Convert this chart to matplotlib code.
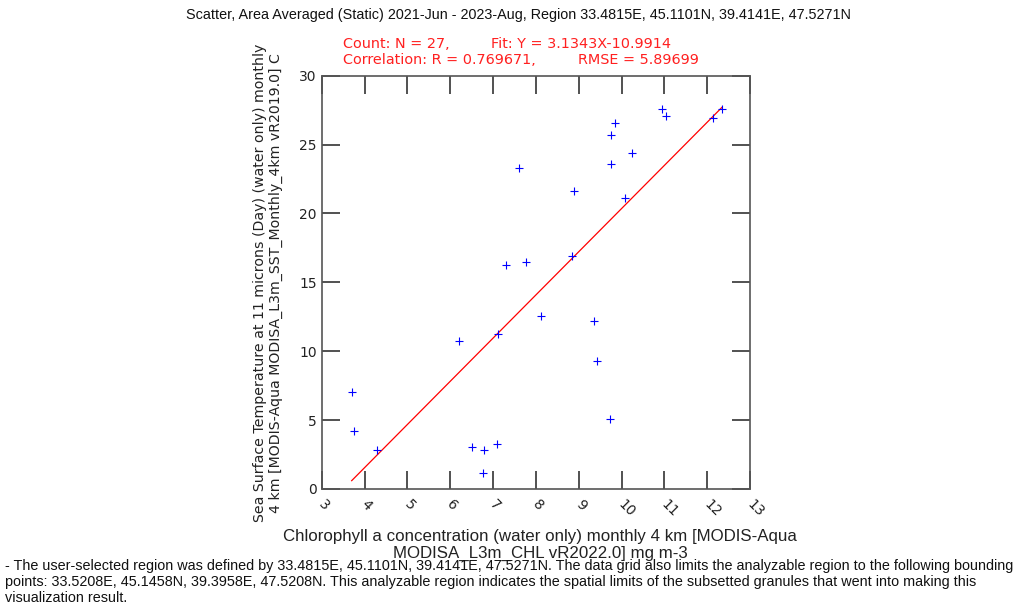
import matplotlib
matplotlib.use("Agg")
import matplotlib.pyplot as plt
import matplotlib.transforms as mtransforms
import numpy as np

# Data
chl = [3.70, 3.76, 4.30, 6.20, 6.50, 6.80, 6.77, 7.10, 7.12, 7.30, 7.61, 7.76,
       8.13, 8.84, 8.89, 9.35, 9.43, 9.72, 9.75, 9.75, 9.84, 10.07, 10.24,
       10.95, 11.05, 12.14, 12.35]
sst = [7.06, 4.21, 2.81, 10.74, 3.07, 2.81, 1.14, 3.29, 11.25, 16.26, 23.32,
       16.48, 12.58, 16.91, 21.63, 12.17, 9.29, 5.11, 23.59, 25.67, 26.59,
       21.10, 24.36, 27.58, 27.07, 26.93, 27.61]
fit_slope = 3.1343
fit_intercept = -10.9914
x_ticks = [3, 4, 5, 6, 7, 8, 9, 10, 11, 12, 13]
y_ticks = [0, 5, 10, 15, 20, 25, 30]

W, H = 1014, 604
fig = plt.figure(figsize=(W / 100, H / 100), dpi=100)
L, R, T, B = 321.7, 750, 75.7, 489
ax = fig.add_axes([L / W, 1 - B / H, (R - L) / W, (B - T) / H])

ax.scatter(chl, sst, marker='+', color='blue', s=30, linewidths=0.8, zorder=3)
xf = np.array([min(chl), max(chl)])
ax.plot(xf, fit_slope * xf + fit_intercept, color='red', lw=0.9, zorder=2)

ax.set_xlim(3, 13)
ax.set_ylim(0, 30)
ax.set_xticks(x_ticks)
ax.set_yticks(y_ticks)
ax.tick_params(direction='in', length=13, width=1.2, color='#333333',
               top=True, right=True, labelsize=10, labelcolor='#222222')
ax.tick_params(axis='x', pad=6)
offset = mtransforms.ScaledTranslation(4 / 100, 0, fig.dpi_scale_trans)
for lab in ax.get_xticklabels():
    lab.set_rotation(-45)
    lab.set_ha('left')
    lab.set_va('top')
    lab.set_rotation_mode('anchor')
    lab.set_transform(lab.get_transform() + offset)
for s in ax.spines.values():
    s.set_color('#555555')
    s.set_linewidth(1.2)

narrow = ['Liberation Sans', 'DejaVu Sans']
renderer = fig.canvas.get_renderer()


def fit_width(t, target_px):
    ext = t.get_window_extent(renderer)
    t.set_fontsize(t.get_fontsize() * target_px / ext.width)


t = fig.text(518 / W, 1 - 15 / H,
             "Scatter, Area Averaged (Static) 2021-Jun - 2023-Aug, Region 33.4815E, 45.1101N, 39.4141E, 47.5271N",
             ha='center', va='center', fontsize=10, family=narrow, color='#111111')
fit_width(t, 667)

red = '#ff2020'
fs_stat = 10.4
fig.text(343 / W, 1 - 44 / H, "Count: N = 27,", color=red, fontsize=fs_stat, va='center')
fig.text(491 / W, 1 - 44 / H, "Fit: Y = 3.1343X-10.9914", color=red, fontsize=fs_stat, va='center')
fig.text(343 / W, 1 - 60 / H, "Correlation: R = 0.769671,", color=red, fontsize=fs_stat, va='center')
fig.text(578 / W, 1 - 60 / H, "RMSE = 5.89699", color=red, fontsize=fs_stat, va='center')

fig.text(268 / W, 1 - 283 / H,
         "Sea Surface Temperature at 11 microns (Day) (water only) monthly\n"
         "4 km [MODIS-Aqua MODISA_L3m_SST_Monthly_4km vR2019.0] C",
         rotation=90, ha='center', va='center', fontsize=10.2, color='#222222',
         linespacing=1.2)

t = fig.text(540 / W, 1 - 545 / H,
             "Chlorophyll a concentration (water only) monthly 4 km [MODIS-Aqua\n"
             "MODISA_L3m_CHL vR2022.0] mg m-3",
             ha='center', va='center', fontsize=10, color='#222222',
             family=narrow, linespacing=1.15)
fit_width(t, 515)

t = fig.text(5 / W, 1 - 582 / H,
             "- The user-selected region was defined by 33.4815E, 45.1101N, 39.4141E, 47.5271N. The data grid also limits the analyzable region to the following bounding\n"
             "points: 33.5208E, 45.1458N, 39.3958E, 47.5208N. This analyzable region indicates the spatial limits of the subsetted granules that went into making this\n"
             "visualization result.",
             ha='left', va='center', fontsize=10, family=narrow, color='#111111',
             linespacing=1.2)
fit_width(t, 1005)

fig.savefig("out.png", dpi=100)
